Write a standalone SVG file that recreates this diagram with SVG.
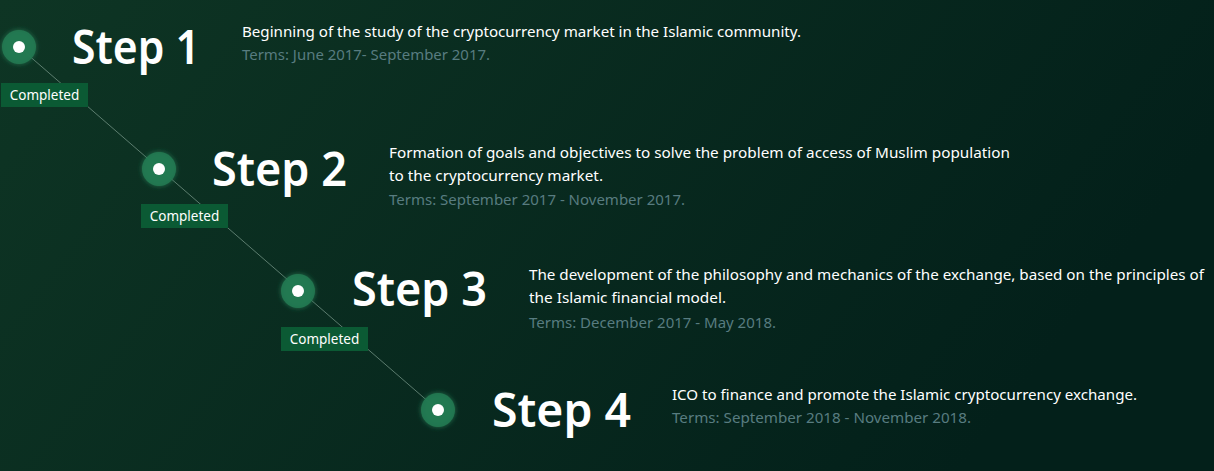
<svg xmlns="http://www.w3.org/2000/svg" width="1214" height="471" viewBox="0 0 1214 471">
<defs>
<linearGradient id="bg" x1="0" y1="0" x2="1" y2="0.3">
<stop offset="0" stop-color="#0e3524"/>
<stop offset="1" stop-color="#03201a"/>
</linearGradient>
<filter id="glow" x="-60%" y="-60%" width="220%" height="220%">
<feGaussianBlur stdDeviation="2.5" result="b"/>
<feMerge><feMergeNode in="b"/><feMergeNode in="SourceGraphic"/></feMerge>
</filter>
<style>
.ring{fill:#237a52;fill-opacity:0.88;filter:url(#glow);}
.dot{fill:#ffffff;}
.badge{fill:#0b5a34;}
.badge-t{font-family:"Noto Sans","Open Sans",sans-serif;font-size:13.5px;fill:#ffffff;text-anchor:middle;}
.title{font-family:"Noto Sans","Open Sans",sans-serif;font-size:47px;font-weight:600;fill:#ffffff;}
.desc{font-family:"Noto Sans","Open Sans",sans-serif;font-size:14.5px;fill:#ffffff;}
.terms{font-family:"Noto Sans","Open Sans",sans-serif;font-size:14.5px;fill:#587c80;}
.conn{stroke:#7f9e90;stroke-opacity:0.7;stroke-width:1;fill:none;}
</style>
</defs>
<rect width="1214" height="471" fill="url(#bg)"/>
<g id="connectors">
<line class="conn" x1="19" y1="47" x2="438" y2="410"/>
</g>
<g id="step1">
<circle class="ring" cx="19" cy="47" r="17"/>
<circle class="dot" cx="19" cy="47" r="6"/>
<rect class="badge" x="1" y="83" width="87" height="24"/>
<text class="badge-t" x="44.5" y="100">Completed</text>
<text class="title" x="72" y="64" textLength="128" lengthAdjust="spacingAndGlyphs">Step 1</text>
<text class="desc" x="242" y="37" textLength="559" lengthAdjust="spacingAndGlyphs">Beginning of the study of the cryptocurrency market in the Islamic community.</text>
<text class="terms" x="242" y="60" textLength="248" lengthAdjust="spacingAndGlyphs">Terms: June 2017- September 2017.</text>
</g>
<g id="step2">
<circle class="ring" cx="159" cy="169" r="17"/>
<circle class="dot" cx="159" cy="169" r="6"/>
<rect class="badge" x="141" y="204" width="87" height="24"/>
<text class="badge-t" x="184.5" y="221">Completed</text>
<text class="title" x="212" y="186" textLength="135" lengthAdjust="spacingAndGlyphs">Step 2</text>
<text class="desc" x="389" y="158" textLength="621" lengthAdjust="spacingAndGlyphs">Formation of goals and objectives to solve the problem of access of Muslim population</text>
<text class="desc" x="389" y="181" textLength="214" lengthAdjust="spacingAndGlyphs">to the cryptocurrency market.</text>
<text class="terms" x="389" y="205" textLength="296" lengthAdjust="spacingAndGlyphs">Terms: September 2017 - November 2017.</text>
</g>
<g id="step3">
<circle class="ring" cx="298" cy="291" r="17"/>
<circle class="dot" cx="298" cy="291" r="6"/>
<rect class="badge" x="281" y="327" width="87" height="24"/>
<text class="badge-t" x="324.5" y="344">Completed</text>
<text class="title" x="352" y="306" textLength="135" lengthAdjust="spacingAndGlyphs">Step 3</text>
<text class="desc" x="529" y="280" textLength="675" lengthAdjust="spacingAndGlyphs">The development of the philosophy and mechanics of the exchange, based on the principles of</text>
<text class="desc" x="529" y="303" textLength="197" lengthAdjust="spacingAndGlyphs">the Islamic financial model.</text>
<text class="terms" x="529" y="328" textLength="247" lengthAdjust="spacingAndGlyphs">Terms: December 2017 - May 2018.</text>
</g>
<g id="step4">
<circle class="ring" cx="438" cy="410" r="17"/>
<circle class="dot" cx="438" cy="410" r="6"/>
<text class="title" x="492" y="427" textLength="139" lengthAdjust="spacingAndGlyphs">Step 4</text>
<text class="desc" x="672" y="400" textLength="465" lengthAdjust="spacingAndGlyphs">ICO to finance and promote the Islamic cryptocurrency exchange.</text>
<text class="terms" x="672" y="423" textLength="299" lengthAdjust="spacingAndGlyphs">Terms: September 2018 - November 2018.</text>
</g>
</svg>
